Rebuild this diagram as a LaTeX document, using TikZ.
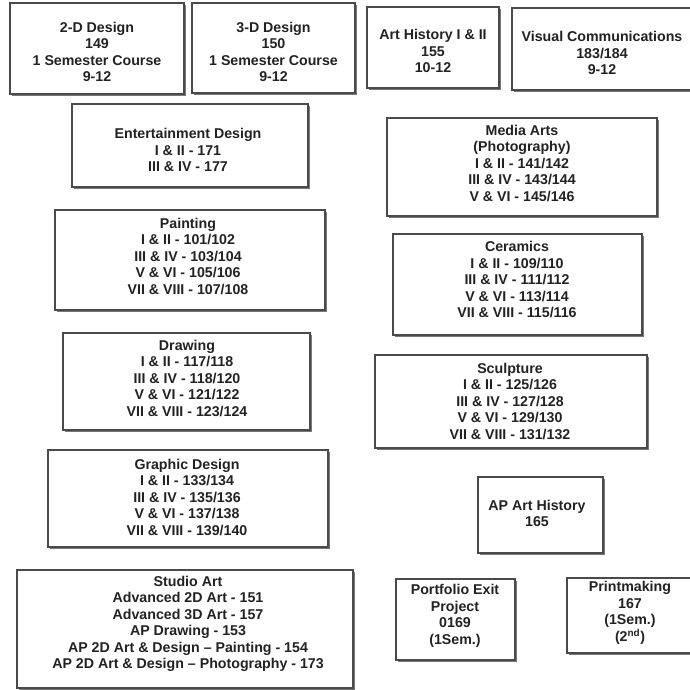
\documentclass[tikz,border=0pt]{standalone}
\usepackage{fontspec}
\setmainfont{Liberation Sans}
\usetikzlibrary{shadows}
\definecolor{edge}{HTML}{4A4A4A}
\definecolor{ink}{HTML}{222222}
\tikzset{
  box/.style={draw=edge, line width=1.1pt, fill=white, inner sep=0pt,
    drop shadow={shadow xshift=2.2pt, shadow yshift=-2.2pt, fill=black!70, opacity=0.75}},
  txt/.style={align=center, text=ink, inner sep=0pt,
    font=\fontsize{14.2}{16.5}\selectfont\bfseries}
}
\begin{document}
\begin{tikzpicture}[x=1pt,y=-1pt]
\useasboundingbox (0,0) rectangle (689,690);
\fill[white] (0,0) rectangle (689,690);
% boxes
\node[box, minimum width=174pt, minimum height=91pt] (b1) at (97,48.5) {};
\node[box, minimum width=163pt, minimum height=90pt] (b2) at (273.5,48) {};
\node[box, minimum width=132pt, minimum height=81pt] (b3) at (433,47.5) {};
\node[box, minimum width=181pt, minimum height=82pt] (b4) at (602.5,49) {};
\node[box, minimum width=236pt, minimum height=83pt] (b5) at (190,145.5) {};
\node[box, minimum width=270pt, minimum height=98pt] (b6) at (522,167) {};
\node[box, minimum width=270pt, minimum height=100pt] (b7) at (190,260) {};
\node[box, minimum width=249pt, minimum height=101pt] (b8) at (517.5,284.5) {};
\node[box, minimum width=247pt, minimum height=97pt] (b9) at (186.5,381.5) {};
\node[box, minimum width=272pt, minimum height=93pt] (b10) at (511,401.5) {};
\node[box, minimum width=280pt, minimum height=97pt] (b11) at (188,498.5) {};
\node[box, minimum width=125pt, minimum height=76pt] (b12) at (540.5,515) {};
\node[box, minimum width=336pt, minimum height=118pt] (b13) at (185,629) {};
\node[box, minimum width=119pt, minimum height=81pt] (b14) at (455.5,619.5) {};
\node[box, minimum width=126pt, minimum height=75pt] (b15) at (630,615.5) {};
% texts
\node[txt] (t1) at (97,52) {2-D Design\\149\\1 Semester Course\\9-12};
\node[txt] (t2) at (273.5,52) {3-D Design\\150\\1 Semester Course\\9-12};
\node[txt] (t3) at (433,51) {Art History I \& II\\155\\10-12};
\node[txt] (t4) at (602,53) {Visual Communications\\183/184\\9-12};
\node[txt] (t5) at (188,150) {Entertainment Design\\I \& II - 171\\III \& IV - 177};
\node[txt] (t6) at (522,163) {Media Arts\\(Photography)\\I \& II - 141/142\\III \& IV - 143/144\\V \& VI - 145/146};
\node[txt] (t7) at (188,256) {Painting\\I \& II - 101/102\\III \& IV - 103/104\\V \& VI - 105/106\\VII \& VIII - 107/108};
\node[txt] (t8) at (517,279.5) {Ceramics\\I \& II - 109/110\\III \& IV - 111/112\\V \& VI - 113/114\\VII \& VIII - 115/116};
\node[txt] (t9) at (187,378) {Drawing\\I \& II - 117/118\\III \& IV - 118/120\\V \& VI - 121/122\\VII \& VIII - 123/124};
\node[txt] (t10) at (510,401) {Sculpture\\I \& II - 125/126\\III \& IV - 127/128\\V \& VI - 129/130\\VII \& VIII - 131/132};
\node[txt] (t11) at (187,497) {Graphic Design\\I \& II - 133/134\\III \& IV - 135/136\\V \& VI - 137/138\\VII \& VIII - 139/140};
\node[txt] (t12) at (537,513.5) {AP Art History\\165};
\node[txt] (t13) at (188,624) {Studio Art\\Advanced 2D Art - 151\\Advanced 3D Art - 157\\AP Drawing - 153\\AP 2D Art \& Design -- Painting - 154\\AP 2D Art \& Design -- Photography - 173};
\node[txt] (t14) at (455,616) {Portfolio Exit\\Project\\0169\\(1Sem.)};
\node[txt] (t15) at (630,613) {Printmaking\\167\\(1Sem.)\\(2\textsuperscript{nd})};
\end{tikzpicture}
\end{document}
